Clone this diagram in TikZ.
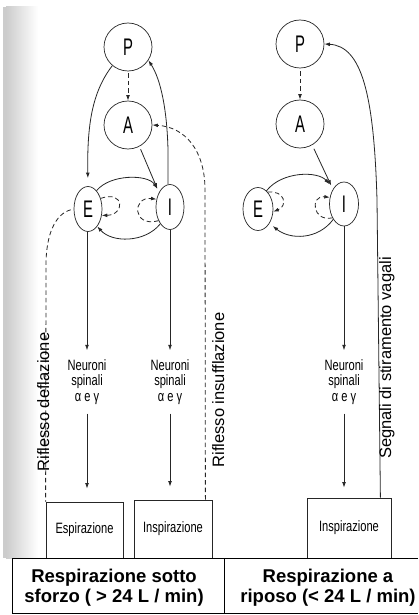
\documentclass[tikz,border=0pt]{standalone}
\usepackage{fontspec}
\setmainfont{Liberation Sans}
\newfontfamily\narrowsans[FakeStretch=0.74]{Liberation Sans}
\newfontfamily\lettersans[FakeStretch=0.62]{Liberation Sans}
\usetikzlibrary{shapes.geometric,arrows.meta,calc}

\tikzset{
  ln/.style={draw=black!85, line width=0.8pt},
  tip/.style={-{Latex[length=5.5pt,width=3.8pt]}},
  dsh/.style={dash pattern=on 4.5pt off 3pt},
  circ/.style={circle, draw=black!85, line width=0.7pt, minimum size=48pt,
    inner sep=0pt, font=\lettersans\fontsize{24}{24}\selectfont},
  oval/.style={ellipse, draw=black!85, line width=0.7pt, minimum width=28pt,
    minimum height=45pt, inner sep=0pt, font=\lettersans\fontsize{24}{24}\selectfont},
  neur/.style={align=center, inner xsep=2pt, inner ysep=9pt,
    font=\narrowsans\fontsize{15}{15.5}\selectfont},
  outbox/.style={rectangle, draw=black!85, line width=0.8pt, inner sep=0pt,
    font=\narrowsans\fontsize{15}{15.5}\selectfont},
  vlabel/.style={rotate=90, anchor=base, inner sep=0pt,
    font=\fontsize{16.5}{16.5}\selectfont},
  head/.style={align=center, font=\bfseries\fontsize{18.5}{20}\selectfont},
  tbl/.style={draw=black, line width=1pt},
}

\begin{document}
\begin{tikzpicture}[x=1pt, y=-1pt]
  \useasboundingbox (0,0) rectangle (418,615);
  \fill[white] (0,0) rectangle (418,615);

  % shadow of the page fold along the left margin
  \fill[black!20] (3,7) rectangle (6,558);
  \shade[left color=black!20, right color=white] (6,7) rectangle (38,558);

  % ---------- exercise: left scheme ----------
  \node[circ] (P1) at (128,47) {P};
  \node[circ] (A1) at (128,125) {A};
  \node[oval] (E1) at (88,209) {E};
  \node[oval] (I1) at (170,207) {I};
  \node[neur] (N1) at (87,382) {Neuroni\\spinali\\α e γ};
  \node[neur] (N2) at (170,382) {Neuroni\\spinali\\α e γ};
  \node[outbox, minimum width=77pt, minimum height=56pt] (X1) at (84.5,530) {Espirazione};
  \node[outbox, minimum width=78pt, minimum height=58pt] (Y1) at (173,529) {Inspirazione};

  \draw[ln,tip,shorten >=8pt] (P1.-130) .. controls (92,92) and (87,125) .. (E1.north);
  \draw[ln,tip] (I1.95) -- (168,150) .. controls (167,110) and (161,80) .. (P1.-33);
  \draw[ln,tip,dsh,shorten <=2pt] (P1) -- (A1);
  \draw[ln,tip,shorten <=3pt] (A1.-62) -- ([xshift=-2pt,yshift=3pt]I1.125);
  \draw[ln,tip] (E1.65) .. controls (110,174) and (148,174) .. ([xshift=-2pt,yshift=3pt]I1.125);
  \draw[ln,tip] (I1.-120) .. controls (145,243) and (112,243) .. (E1.-62);
  \draw[ln,tip,dsh] (E1.40) .. controls (125,190) and (125,215) .. (E1.-25);
  \draw[ln,tip,dsh] (I1.-130) .. controls (132,228) and (132,196) .. (I1.150);
  \draw[ln,tip,dsh] ([xshift=-7pt]Y1.north east) -- (205,190)
    .. controls (205,150) and (185,127) .. (A1.east);
  \draw[ln,dsh,shorten <=3pt] (E1.west) .. controls (55,214) and (46,235) .. (46,265)
    -- (X1.north west);

  \draw[ln,tip] (N1.north |- E1.south) -- (N1.north);
  \draw[ln,tip,shorten >=13pt] (N1.south) -- (N1.south |- X1.north);
  \draw[ln,tip] (N2.north |- I1.south) -- (N2.north);
  \draw[ln,tip,shorten >=13pt] (N2.south) -- (N2.south |- Y1.north);

  \node[vlabel] (L1) at (49,402) {Riflesso deflazione};
  \node[vlabel] (L2) at (224,390) {Riflesso insufflazione};

  % ---------- rest: right scheme ----------
  \node[circ] (P2) at (300,44) {P};
  \node[circ] (A2) at (300,124) {A};
  \node[oval, minimum width=30pt, minimum height=43pt] (E2) at (258,209) {E};
  \node[oval, minimum width=29pt, minimum height=44pt] (I2) at (344,204) {I};
  \node[neur] (N3) at (344,382) {Neuroni\\spinali\\α e γ};
  \node[outbox, minimum width=84pt, minimum height=60pt] (Y2) at (349,528) {Inspirazione};

  \draw[ln,tip,dsh,shorten <=3pt] (P2) -- (A2);
  \draw[ln,tip,shorten <=4pt] (A2.-60) -- ([xshift=-2pt,yshift=3pt]I2.125);
  \draw[ln,tip] (E2.65) .. controls (282,171) and (318,171) .. ([xshift=-3pt,yshift=6pt]I2.130);
  \draw[ln,tip] (I2.-125) .. controls (318,240) and (290,240) .. ([xshift=3pt,yshift=-3pt]E2.-50);
  \draw[ln,tip,dsh] (E2.60) .. controls (285,190) and (288,206) .. (E2.-10);
  \draw[ln,tip,dsh] (I2.-130) .. controls (312,222) and (310,195) .. (I2.155);
  \draw[ln,tip] ([xshift=-11pt]Y2.north east) -- (377,200)
    .. controls (374,95) and (362,46) .. (P2.east);

  \draw[ln,tip] (N3.north |- I2.south) -- (N3.north);
  \draw[ln,tip,shorten >=10pt] (N3.south) -- (N3.south |- Y2.north);

  \node[vlabel] (L3) at (391,358) {Segnali di stiramento vagali};

  % ---------- caption table ----------
  \draw[tbl] (12,558) -- (418,558);
  \draw[tbl] (12,613) -- (418,613);
  \draw[tbl] (12,558) -- (12,613);
  \draw[tbl] (224,558) -- (224,613);
  \node[head] (H1) at (114,588) {Respirazione sotto\\sforzo ( > 24 L / min)};
  \node[head] (H2) at (328,588) {Respirazione a\\riposo (< 24 L / min)};
\end{tikzpicture}
\end{document}
